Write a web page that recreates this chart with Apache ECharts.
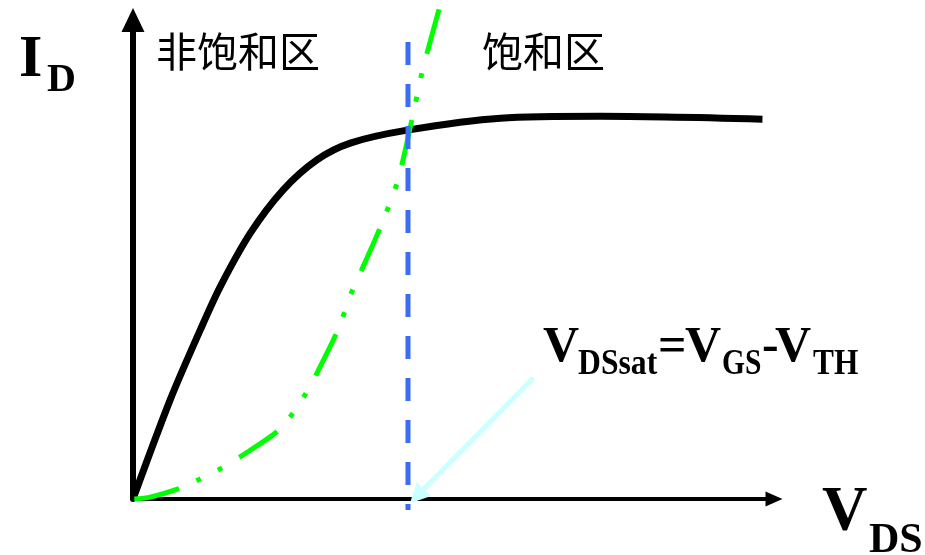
<!DOCTYPE html>
<html>
<head>
<meta charset="utf-8">
<title>ID-VDS</title>
<script src="https://cdn.jsdelivr.net/npm/echarts@6/dist/echarts.min.js"></script>
<style>
html,body{margin:0;padding:0;background:#fff;}
#main{width:925px;height:555px;}
</style>
</head>
<body>
<div id="main"></div>
<script>
// 坐标轴都按 0~100 计
// 黑色 ID-VDS 曲线
var curveX = [0, 5.8, 10.5, 13.6, 18.3, 23.4, 28.7, 33.9, 42.8, 57.3, 72.9, 98.2];
var curveY = [0, 20.7, 35.3, 44.3, 55.5, 64.5, 70.8, 74.3, 77.0, 79.5, 79.9, 79.3];
// 绿色点划线 (饱和点轨迹)
var satX = [0.2, 2.7, 7.5, 10.5, 13.9, 16.7, 22.6, 25.0, 27.0, 28.7, 31.9, 34.3, 35.8, 38.6, 41.2, 43.6, 45.1, 47.8];
var satY = [0, 0.4, 2.3, 4.2, 6.5, 8.8, 14.2, 18.0, 22.1, 26.3, 35.1, 43.8, 48.2, 56.8, 66.0, 79.7, 89.1, 102.5];
// 蓝色虚线 VDSsat
var vdsatX = 42.9;
var vdsatY = [95.4, -2.3];
// 浅青色箭头
var arrowFrom = [62.5, 25.3];
var arrowTo = [44.3, 0.6];

function pairs(xs, ys){
	var arr = [];
	for(var i = 0; i < xs.length; i++){
		arr.push([xs[i], ys[i]]);
	}
	return arr;
}

function txt(x, y, s, font, sx){
	return {
		type: 'text',
		x: x,
		y: y,
		scaleX: sx || 1,
		silent: true,
		style: {
			text: s,
			x: 0,
			y: 0,
			font: font,
			fill: '#000',
			textAlign: 'left',
			align: 'left',
			textVerticalAlign: 'middle',
			verticalAlign: 'middle'
		}
	};
}

function chart(){
	var myChart = echarts.init(document.getElementById('main'));
	var serif = '"Liberation Serif","Times New Roman",serif';
	var cjk = '"Noto Sans CJK SC",sans-serif';
	var vdsat = [];
	for(var i = 0; i < vdsatY.length; i++){
		vdsat.push([vdsatX, vdsatY[i]]);
	}
	var option = {
		animation: false,
		backgroundColor: '#fff',
		grid: {left: 133, top: 20, right: 151, bottom: 56},
		xAxis: {
			type: 'value',
			min: 0,
			max: 100,
			axisLine: {
				show: true,
				onZero: false,
				symbol: ['none', 'triangle'],
				symbolSize: [15, 17],
				lineStyle: {color: '#000', width: 4}
			},
			axisTick: {show: false},
			axisLabel: {show: false},
			splitLine: {show: false}
		},
		yAxis: {
			type: 'value',
			min: 0,
			max: 100,
			axisLine: {
				show: true,
				onZero: false,
				symbol: ['none', 'triangle'],
				symbolSize: [23, 24],
				lineStyle: {color: '#000', width: 6}
			},
			axisTick: {show: false},
			axisLabel: {show: false},
			splitLine: {show: false}
		},
		series: [
			{
				name: 'ID',
				type: 'line',
				smooth: 0.3,
				symbol: 'none',
				z: 3,
				lineStyle: {color: '#000', width: 7},
				data: pairs(curveX, curveY)
			},
			{
				name: 'sat',
				type: 'line',
				smooth: 0.3,
				symbol: 'none',
				clip: false,
				z: 4,
				lineStyle: {color: '#00ff00', width: 5, type: [46, 19, 5, 19, 5, 20]},
				data: pairs(satX, satY)
			},
			{
				name: 'VDSsat',
				type: 'line',
				symbol: 'none',
				clip: false,
				z: 5,
				lineStyle: {color: '#3a6cf5', width: 5, type: [23, 19]},
				data: vdsat
			},
			{
				type: 'lines',
				coordinateSystem: 'cartesian2d',
				symbol: ['none', 'triangle'],
				symbolSize: 20,
				z: 6,
				silent: true,
				lineStyle: {color: '#ccffff', width: 5, opacity: 1, curveness: 0},
				data: [{coords: [arrowFrom, arrowTo]}]
			}
		],
		graphic: [
			txt(19, 60, 'I', 'bold 60px ' + serif),
			txt(47, 81, 'D', 'bold 40px ' + serif),
			txt(156, 51, '非饱和区', 'normal 41px ' + cjk),
			txt(482, 51, '饱和区', 'normal 41px ' + cjk),
			txt(543, 348, 'V', 'bold 50px ' + serif),
			txt(578, 365, 'DSsat', 'bold 36px ' + serif, 0.88),
			txt(658, 348, '=', 'bold 50px ' + serif),
			txt(685, 348, 'V', 'bold 50px ' + serif),
			txt(722, 365, 'GS', 'bold 36px ' + serif, 0.82),
			txt(762, 348, '-', 'bold 50px ' + serif),
			txt(775, 348, 'V', 'bold 50px ' + serif),
			txt(813, 365, 'TH', 'bold 36px ' + serif, 0.87),
			txt(822, 514, 'V', 'bold 63px ' + serif),
			txt(869, 541, 'DS', 'bold 42px ' + serif)
		]
	};
	myChart.setOption(option);
}
chart();
</script>
</body>
</html>
